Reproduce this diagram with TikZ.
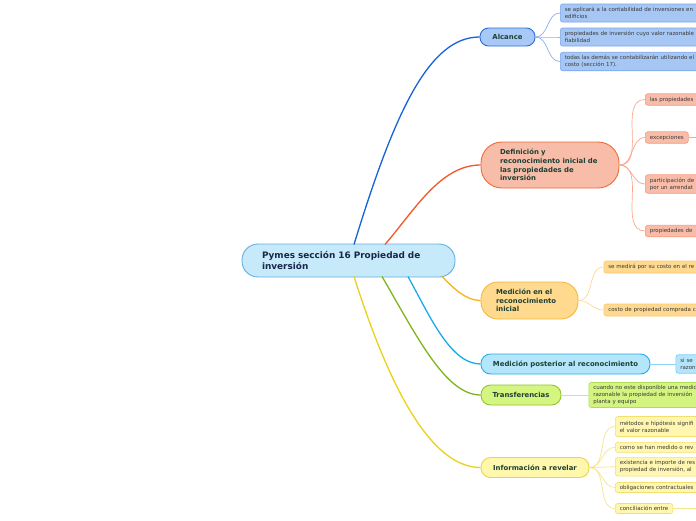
\documentclass[tikz,border=0pt]{standalone}
\usepackage{fontspec}
\setmainfont{DejaVu Sans}
\definecolor{cenF}{HTML}{C7EAFB}\definecolor{cenD}{HTML}{62B0E3}\definecolor{cenT}{HTML}{17264A}
\definecolor{titT}{HTML}{1E4034}\definecolor{leafT}{HTML}{383838}
\definecolor{alcF}{HTML}{A8C9F8}\definecolor{alcD}{HTML}{2C6DD8}\definecolor{alcL}{HTML}{1565D8}
\definecolor{alcLF}{HTML}{A6C7F4}\definecolor{alcLD}{HTML}{7AA5EC}\definecolor{alcS}{HTML}{8DB1EE}
\definecolor{defF}{HTML}{F8BDA9}\definecolor{defD}{HTML}{F26A3C}\definecolor{defL}{HTML}{F2572A}
\definecolor{defLF}{HTML}{F9BCA9}\definecolor{defLD}{HTML}{F59D80}\definecolor{defS}{HTML}{F9A88D}
\definecolor{medF}{HTML}{FFDA8E}\definecolor{medD}{HTML}{F6B73C}\definecolor{medL}{HTML}{F8B21F}
\definecolor{medLF}{HTML}{FFD98F}\definecolor{medLD}{HTML}{F9CB6E}\definecolor{medS}{HTML}{FDD899}
\definecolor{posF}{HTML}{B4E6FB}\definecolor{posD}{HTML}{26ACE6}\definecolor{posL}{HTML}{1BAAE8}
\definecolor{posLF}{HTML}{B4E5FA}\definecolor{posLD}{HTML}{7FD0F2}\definecolor{posS}{HTML}{8FD6F4}
\definecolor{traF}{HTML}{D4F580}\definecolor{traD}{HTML}{8FC62D}\definecolor{traL}{HTML}{82B51C}
\definecolor{traLF}{HTML}{D3F580}\definecolor{traLD}{HTML}{B0DC5A}\definecolor{traS}{HTML}{C8E98C}
\definecolor{infF}{HTML}{FFF8AC}\definecolor{infD}{HTML}{E9D54C}\definecolor{infL}{HTML}{EAD21C}
\definecolor{infLF}{HTML}{FFF6B0}\definecolor{infLD}{HTML}{F1E070}\definecolor{infS}{HTML}{F5E68A}
\begin{document}
\begin{tikzpicture}[x=1pt,y=-1pt,
  conn/.style={line width=1.3pt},
  sub/.style={line width=0.7pt},
  central/.style={draw=cenD, fill=cenF, line width=0.9pt, text=cenT, font=\bfseries\fontsize{8.9}{11}\selectfont, inner sep=0pt, align=left, minimum width=213pt, minimum height=33pt, rounded corners=16pt, text width=173pt},
  mainbox/.style={draw, line width=0.9pt, text=titT, font=\bfseries\fontsize{6.9}{8.7}\selectfont, inner sep=0pt, align=left},
  leaf/.style={draw, line width=0.6pt, rounded corners=2.5pt, text=leafT, font=\fontsize{5.5}{6.8}\selectfont, inner xsep=4.5pt, inner ysep=0pt, anchor=west, align=left, text width=300pt},
  leafs/.style={draw, line width=0.6pt, rounded corners=2.5pt, text=leafT, font=\fontsize{5.5}{6.8}\selectfont, inner xsep=4.5pt, inner ysep=0pt, anchor=west, align=left},
]
\clip (0,0) rectangle (696,520);
\fill[white] (0,0) rectangle (696,520);
% central and main branches
\node[central] (c) at (348.5,260.5) {Pymes sección 16 Propiedad de\\inversión};
\node[mainbox, fill=alcF, draw=alcD, minimum width=55pt, minimum height=18pt, rounded corners=8.5pt, align=center] (alc) at (507.5,37) {Alcance};
\node[mainbox, fill=defF, draw=defD, minimum width=138pt, minimum height=46pt, rounded corners=21pt, text width=100pt] (def) at (550,165) {Definición y\\reconocimiento inicial de\\las propiedades de\\inversión};
\node[mainbox, fill=medF, draw=medD, minimum width=97pt, minimum height=37pt, rounded corners=17pt, text width=67pt] (med) at (529.5,300.5) {Medición en el\\reconocimiento\\inicial};
\node[mainbox, fill=posF, draw=posD, minimum width=169pt, minimum height=20pt, rounded corners=9.5pt, align=center] (pos) at (565.5,364) {Medición posterior al reconocimiento};
\node[mainbox, fill=traF, draw=traD, minimum width=80pt, minimum height=20pt, rounded corners=9.5pt, align=center] (tra) at (521,395) {Transferencias};
\node[mainbox, fill=infF, draw=infD, minimum width=108pt, minimum height=20pt, rounded corners=9.5pt, align=center] (inf) at (535,467.5) {Información a revelar};
% start points on the central node
\coordinate (s1) at (354,244.5);
\coordinate (s2) at (385,244.5);
\coordinate (s3) at (442,276.5);
\coordinate (s4) at (408,276.5);
\coordinate (s5) at (382,276.5);
\coordinate (s6) at (354,276.5);
\draw[conn, alcL] (s1) .. controls +(41,-134) and +(-50,0) .. (alc.west);
\draw[conn, defL] (s2) .. controls +(30,-35) and +(-40,0) .. (def.west);
\draw[conn, medL] (s3) .. controls +(12,12) and +(-15,0) .. (med.west);
\draw[conn, posL] (s4) .. controls +(22,40) and +(-30,0) .. (pos.west);
\draw[conn, traL] (s5) .. controls +(35,60) and +(-35,0) .. (tra.west);
\draw[conn, infL] (s6) .. controls +(35,110) and +(-50,0) .. (inf.west);
% Alcance leaves
\node[leaf, fill=alcLF, draw=alcLD, minimum height=18pt] (a1) at (560,13) {se aplicará a la contabilidad de inversiones en\\edificios};
\node[leaf, fill=alcLF, draw=alcLD, minimum height=18pt] (a2) at (560,37) {propiedades de inversión cuyo valor razonable\\fiabilidad};
\node[leaf, fill=alcLF, draw=alcLD, minimum height=18.5pt] (a3) at (560,61.5) {todas las demás se contabilizarán utilizando el\\costo (sección 17).};
\foreach \n in {a1,a2,a3} \draw[sub, alcS] (alc.east) to[out=0,in=180] (\n.west);
% Definicion leaves
\node[leaf, fill=defLF, draw=defLD, minimum height=11.5pt] (d1) at (645,99.5) {las propiedades};
\node[leafs, fill=defLF, draw=defLD, minimum height=11.5pt] (d2) at (645,137.5) {excepciones};
\node[leaf, fill=defLF, draw=defLD, minimum height=18.5pt] (d3) at (645,184) {participación de\\por un arrendat};
\node[leaf, fill=defLF, draw=defLD, minimum height=11.5pt] (d4) at (645,231) {propiedades de};
\foreach \n in {d1,d2,d3,d4} \draw[sub, defS] (def.east) to[out=0,in=180] (\n.west);
\coordinate (d2x) at (720,137.5);
\draw[sub, defS] (d2.east) -- (d2x);
% Medicion inicial leaves
\node[leaf, fill=medLF, draw=medLD, minimum height=12pt] (m1) at (603.5,267) {se medirá por su costo en el re};
\node[leaf, fill=medLF, draw=medLD, minimum height=12pt] (m2) at (603.5,310) {costo de propiedad comprada c};
\foreach \n in {m1,m2} \draw[sub, medS] (med.east) to[out=0,in=180] (\n.west);
% Posterior leaf
\node[leaf, fill=posLF, draw=posLD, minimum height=18.5pt] (p1) at (675.5,364) {si se\\razon};
\draw[sub, posS] (pos.east) -- (p1.west);
% Transferencias leaf
\node[leaf, fill=traLF, draw=traLD, minimum height=25pt] (t1) at (588.5,395) {cuando no este disponible una medic\\razonable la propiedad de inversión\\planta y equipo};
\draw[sub, traS] (tra.east) -- (t1.west);
% Informacion leaves
\node[leaf, fill=infLF, draw=infLD, minimum height=20pt] (i1) at (615,426.5) {métodos e hipótesis signifi\\el valor razonable};
\node[leaf, fill=infLF, draw=infLD, minimum height=10pt] (i2) at (615,447.3) {como se han medido o rev};
\node[leaf, fill=infLF, draw=infLD, minimum height=18.5pt] (i3) at (615,466.8) {existencia e importe de res\\propiedad de inversión, al};
\node[leaf, fill=infLF, draw=infLD, minimum height=10pt] (i4) at (615,487.5) {obligaciones contractuales};
\node[leafs, fill=infLF, draw=infLD, minimum height=10pt] (i5) at (615,508.5) {conciliación entre};
\foreach \n in {i1,i2,i3,i4,i5} \draw[sub, infS] (inf.east) to[out=0,in=180] (\n.west);
\coordinate (i5x) at (720,508.5);
\draw[sub, infS] (i5.east) -- (i5x);
\end{tikzpicture}
\end{document}
